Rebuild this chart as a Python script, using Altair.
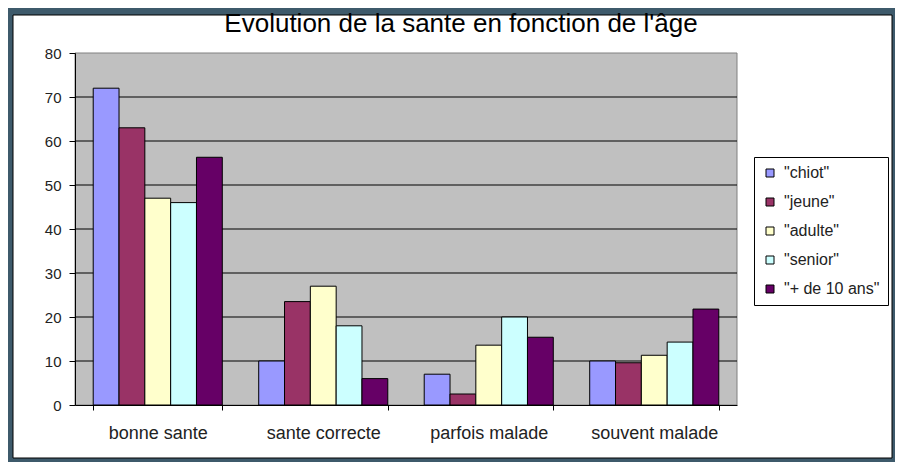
import altair as alt
import pandas as pd

# ---- data ----
CATEGORIES = ["bonne sante", "sante correcte", "parfois malade", "souvent malade"]
AGES = ['"chiot"', '"jeune"', '"adulte"', '"senior"', '"+ de 10 ans"']
CHIOT = [72, 10, 7, 10]
JEUNE = [63, 23.5, 2.5, 9.6]
ADULTE = [47, 27, 13.6, 11.3]
SENIOR = [46, 18, 20, 14.3]
PLUS10 = [56.3, 6, 15.4, 21.8]
COLORS = ["#9999FF", "#993366", "#FFFFCC", "#CCFFFF", "#660066"]
Y_TICKS = [0, 10, 20, 30, 40, 50, 60, 70, 80]
GRID_VALUES = [10, 20, 30, 40, 50, 60, 70]
TITLE = "Evolution de la sante en fonction de l'âge"

FONT = "Liberation Sans"
W, H = 662, 352

series = [CHIOT, JEUNE, ADULTE, SENIOR, PLUS10]
rows = []
for age, vals in zip(AGES, series):
    for cat, v in zip(CATEGORIES, vals):
        rows.append({"categorie": cat, "age": age, "valeur": v})
df = pd.DataFrame(rows)
grid_df = pd.DataFrame({"valeur": GRID_VALUES})

y_scale = alt.Scale(domain=[0, 80], nice=False, zero=True)
y_axis = alt.Axis(
    title=None,
    values=Y_TICKS,
    grid=False,
    tickSize=6,
    tickColor="black",
    domainColor="black",
    labelFont=FONT,
    labelFontSize=15,
    labelColor="#222222",
    labelPadding=8,
    zindex=1,
)

# white inner frame with black border
frame = alt.Chart(alt.Data(values=[{}])).mark_rect(
    fill="white", stroke="black", strokeWidth=1
).encode(
    x=alt.value(-62), x2=alt.value(817), y=alt.value(-38), y2=alt.value(405)
)

# grey plot background
plot_bg = alt.Chart(alt.Data(values=[{}])).mark_rect(
    fill="#C0C0C0", stroke="#808080", strokeWidth=1
).encode(
    x=alt.value(0), x2=alt.value(W), y=alt.value(0), y2=alt.value(H)
)

grid = alt.Chart(grid_df).mark_rule(color="black", strokeWidth=1).encode(
    y=alt.Y("valeur:Q", scale=y_scale, axis=y_axis)
)

bars = alt.Chart(df).mark_bar(stroke="black", strokeWidth=1).encode(
    x=alt.X(
        "categorie:N",
        sort=CATEGORIES,
        scale=alt.Scale(paddingInner=0.22, paddingOuter=0.11),
        axis=alt.Axis(
            title=None,
            labelAngle=0,
            tickBand="extent",
            tickSize=5,
            tickColor="black",
            domainColor="black",
            labelFont=FONT,
            labelFontSize=18,
            labelColor="#222222",
            labelPadding=14,
            grid=False,
            zindex=1,
        ),
    ),
    xOffset=alt.XOffset("age:N", sort=AGES),
    y=alt.Y("valeur:Q", scale=y_scale, axis=y_axis),
    color=alt.Color(
        "age:N",
        sort=AGES,
        scale=alt.Scale(domain=AGES, range=COLORS),
        legend=alt.Legend(
            title=None,
            orient="none",
            legendX=679,
            legendY=104,
            strokeColor="black",
            fillColor="white",
            padding=8,
            symbolType="square",
            symbolSize=64,
            symbolStrokeColor="black",
            symbolStrokeWidth=1,
            symbolOpacity=1,
            labelFont=FONT,
            labelFontSize=16,
            labelColor="#222222",
            rowPadding=13,
            labelOffset=6,
        ),
    ),
)

chart = alt.layer(frame, plot_bg, grid, bars).properties(
    width=W,
    height=H,
    title=alt.Title(
        TITLE,
        font=FONT,
        fontSize=26,
        fontWeight="normal",
        color="black",
        anchor="middle",
        frame="group",
        dx=55,
        offset=-22,
    ),
    background="#3E5A6B",
    padding={"left": 67, "top": 45, "right": 158, "bottom": 57},
    autosize=alt.AutoSizeParams(type="none"),
).configure_view(strokeWidth=0)

chart.save("out.html", embed_options={"renderer": "svg", "actions": False})
